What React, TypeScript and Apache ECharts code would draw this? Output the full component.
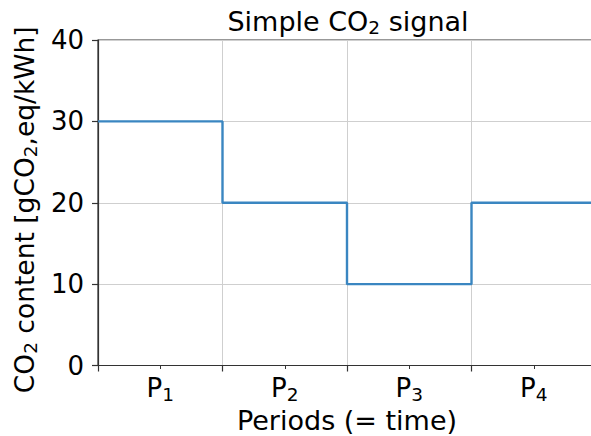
import React, { useEffect, useRef } from "react";
import * as echarts from "echarts";

const periods = ["1", "2", "3", "4"];
const co2 = [30, 20, 10, 20];
const yTicks = [0, 10, 20, 30, 40];

const FONT = "DejaVu Sans";

export default function App() {
  const ref = useRef<HTMLDivElement>(null);
  useEffect(() => {
    if (!ref.current) return;
    const chart = echarts.init(ref.current, null, { renderer: "svg" });
    const stepData = co2.map((v, i) => [i, v]);
    stepData.push([co2.length, co2[co2.length - 1]]);
    const sub = { fontFamily: FONT, fontSize: 18.5, color: "#000", verticalAlign: "bottom", lineHeight: 32 };
    chart.setOption({
      animation: false,
      grid: {
        left: 98,
        top: 40,
        right: -5,
        bottom: 70.5,
        show: true,
        borderColor: "#333",
        borderWidth: 1.2,
        backgroundColor: "transparent",
        outerBoundsMode: "none",
      },
      graphic: [
        {
          type: "text",
          x: 348,
          y: 21,
          style: {
            text: "Simple CO{sub|2} signal",
            fontFamily: FONT,
            fontSize: 27,
            fill: "#000",
            align: "center",
            verticalAlign: "middle",
            rich: { sub },
          },
        },
      ],
      xAxis: [
        {
          type: "value",
          min: 0,
          max: periods.length,
          interval: 1,
          axisLabel: { show: false },
          axisLine: { show: true, lineStyle: { color: "#333", width: 1.2 } },
          axisTick: { show: true, length: 6, lineStyle: { color: "#333", width: 1.2 } },
          minorTick: { show: true, splitNumber: 2, length: 3.5, lineStyle: { color: "#333", width: 1 } },
          splitLine: { show: true, lineStyle: { color: "#cfcfcf", width: 1 } },
          name: "Periods (= time)",
          nameLocation: "middle",
          nameGap: 41,
          nameTextStyle: { fontFamily: FONT, fontSize: 27, color: "#000" },
        },
        {
          type: "category",
          data: periods,
          boundaryGap: true,
          position: "bottom",
          axisLine: { show: false },
          axisTick: { show: false },
          splitLine: { show: false },
          axisLabel: {
            interval: 0,
            margin: 6,
            formatter: (v: string) => "P{sub|" + v + "}",
            fontFamily: FONT,
            fontSize: 26,
            color: "#000",
            rich: { sub },
          },
        },
      ],
      yAxis: {
        type: "value",
        min: yTicks[0],
        max: yTicks[yTicks.length - 1],
        interval: 10,
        axisLine: { show: true, lineStyle: { color: "#333", width: 1.2 } },
        axisTick: { show: true, length: 6, lineStyle: { color: "#333", width: 1.2 } },
        axisLabel: { margin: 14, fontFamily: FONT, fontSize: 26, color: "#000" },
        splitLine: { show: true, lineStyle: { color: "#cfcfcf", width: 1 } },
        name: "CO{sub|2} content [gCO{sub|2},eq/kWh]",
        nameLocation: "middle",
        nameGap: 57,
        nameRotate: 90,
        nameTextStyle: {
          fontFamily: FONT,
          fontSize: 26.5,
          color: "#000",
          rich: { sub },
          padding: [0, 14, 0, 0],
        },
      },
      series: [
        {
          type: "line",
          xAxisIndex: 0,
          step: "end",
          data: stepData,
          showSymbol: false,
          symbol: "none",
          lineStyle: { color: "#3a86c1", width: 2.4 },
          silent: true,
        },
      ],
    });
    return () => chart.dispose();
  }, []);
  return (
    <div
      ref={ref}
      style={{ position: "absolute", left: 0, top: 0, width: 591, height: 436, background: "#fff" }}
    />
  );
}
